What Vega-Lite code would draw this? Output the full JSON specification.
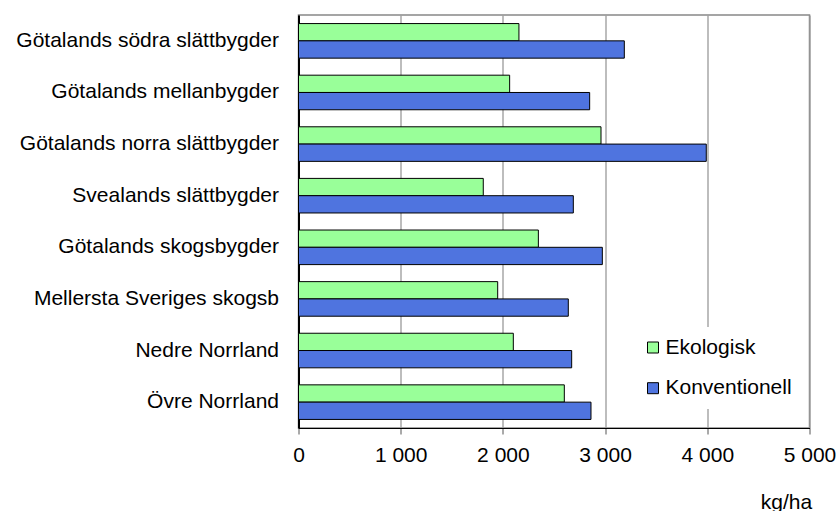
{
  "$schema": "https://vega.github.io/schema/vega-lite/v6.json",
  "width": 511,
  "height": 413,
  "autosize": {"type": "none"},
  "padding": {"left": 298.5, "top": 15, "right": 28.5, "bottom": 83},
  "background": "white",
  "config": {
    "font": "Liberation Sans",
    "view": {"stroke": "#888888", "strokeWidth": 1.5}
  },
  "data": {
    "values": [
      {"region": "Götalands södra slättbygder", "serie": "Ekologisk", "kg": 2157},
      {"region": "Götalands södra slättbygder", "serie": "Konventionell", "kg": 3188},
      {"region": "Götalands mellanbygder", "serie": "Ekologisk", "kg": 2066},
      {"region": "Götalands mellanbygder", "serie": "Konventionell", "kg": 2849},
      {"region": "Götalands norra slättbygder", "serie": "Ekologisk", "kg": 2960},
      {"region": "Götalands norra slättbygder", "serie": "Konventionell", "kg": 3990},
      {"region": "Svealands slättbygder", "serie": "Ekologisk", "kg": 1808},
      {"region": "Svealands slättbygder", "serie": "Konventionell", "kg": 2689},
      {"region": "Götalands skogsbygder", "serie": "Ekologisk", "kg": 2347},
      {"region": "Götalands skogsbygder", "serie": "Konventionell", "kg": 2973},
      {"region": "Mellersta Sveriges skogsb", "serie": "Ekologisk", "kg": 1949},
      {"region": "Mellersta Sveriges skogsb", "serie": "Konventionell", "kg": 2640},
      {"region": "Nedre Norrland", "serie": "Ekologisk", "kg": 2102},
      {"region": "Nedre Norrland", "serie": "Konventionell", "kg": 2673},
      {"region": "Övre Norrland", "serie": "Ekologisk", "kg": 2601},
      {"region": "Övre Norrland", "serie": "Konventionell", "kg": 2862}
    ]
  },
  "mark": {"type": "bar", "stroke": "black", "strokeWidth": 1, "cornerRadius": 0},
  "encoding": {
    "y": {
      "field": "region",
      "type": "nominal",
      "sort": null,
      "scale": {"paddingInner": 0.33, "paddingOuter": 0.166},
      "axis": {
        "title": null,
        "domainColor": "black",
        "domainWidth": 2,
        "ticks": false,
        "labelFontSize": 21,
        "labelColor": "black",
        "labelPadding": 20,
        "labelLimit": 300
      }
    },
    "yOffset": {"field": "serie", "type": "nominal", "sort": ["Ekologisk", "Konventionell"]},
    "x": {
      "field": "kg",
      "type": "quantitative",
      "scale": {"domain": [0, 5000], "nice": false},
      "axis": {
        "values": [0, 1000, 2000, 3000, 4000, 5000],
        "labelExpr": "replace(format(datum.value, ','), ',', ' ')",
        "labelFontSize": 21,
        "labelColor": "black",
        "labelPadding": 10,
        "labelFlush": false,
        "tickSize": 6,
        "tickColor": "#555555",
        "domainColor": "black",
        "gridColor": "#9a9a9a",
        "gridWidth": 1.3,
        "title": "kg/ha",
        "titleFontSize": 21,
        "titleFontWeight": "normal",
        "titleColor": "black",
        "titleAlign": "center",
        "titleBaseline": "alphabetic",
        "titleX": 487.5,
        "titleY": 80
      }
    },
    "color": {
      "field": "serie",
      "type": "nominal",
      "sort": ["Ekologisk", "Konventionell"],
      "scale": {"domain": ["Ekologisk", "Konventionell"], "range": ["#99FF99", "#4F74DF"]},
      "legend": {
        "title": null,
        "orient": "none",
        "legendX": 334,
        "legendY": 312,
        "padding": 10,
        "fillColor": "white",
        "symbolType": "square",
        "symbolSize": 121,
        "symbolStrokeColor": "black",
        "symbolStrokeWidth": 1,
        "symbolOpacity": 1,
        "labelFontSize": 21,
        "labelColor": "black",
        "labelOffset": 2,
        "rowPadding": 18.7
      }
    }
  }
}
